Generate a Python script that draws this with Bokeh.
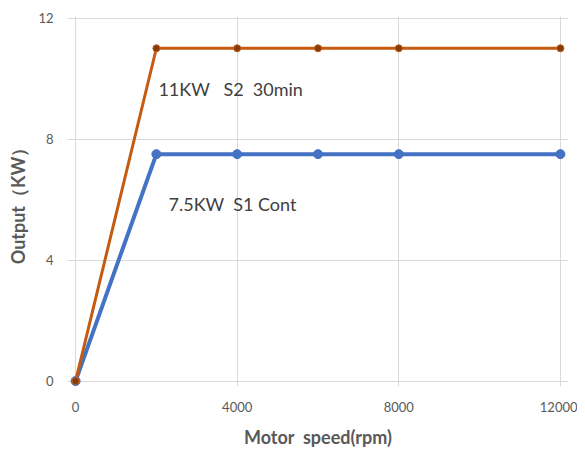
from bokeh.plotting import figure
from bokeh.models import Range1d, FixedTicker, Label
from bokeh.embed import file_html
from bokeh.resources import INLINE

speed = [0, 2000, 4000, 6000, 8000, 12000]
s2_output = [0, 11, 11, 11, 11, 11]
s1_output = [0, 7.5, 7.5, 7.5, 7.5, 7.5]
x_ticks = [0, 4000, 8000, 12000]
y_ticks = [0, 4, 8, 12]
label_s2 = "11KW\u00a0\u00a0 S2\u00a0 30min"
label_s1 = "7.5KW\u00a0 S1 Cont"

FONT = "Lato"
p = figure(width=577, height=450, output_backend="svg", toolbar_location=None,
           x_range=Range1d(-200, 12200), y_range=Range1d(-0.18, 12.05),
           min_border_left=67, min_border_right=9, min_border_top=16, min_border_bottom=57)
p.outline_line_color = None
p.background_fill_color = "white"

for ax in (p.xaxis, p.yaxis):
    ax.axis_line_color = None
    ax.major_tick_line_color = None
    ax.minor_tick_line_color = None
    ax.major_label_text_font = FONT
    ax.major_label_text_font_size = "13px"
    ax.major_label_text_color = "#595959"
    ax.axis_label_text_font = FONT
    ax.axis_label_text_font_size = "18px"
    ax.axis_label_text_font_style = "bold"
    ax.axis_label_text_color = "#595959"

p.xaxis.ticker = FixedTicker(ticks=x_ticks)
p.yaxis.ticker = FixedTicker(ticks=y_ticks)
p.xaxis.major_label_standoff = 9
p.yaxis.major_label_standoff = 8
p.xaxis.axis_label = "Motor\u00a0 speed(rpm)"
p.yaxis.axis_label = "Output（KW）"
p.xaxis.axis_label_standoff = 11
p.yaxis.axis_label_standoff = 6

p.xgrid.grid_line_color = "#d9d9d9"
p.ygrid.grid_line_color = "#d9d9d9"

p.line(speed, s1_output, line_color="#4472C4", line_width=4)
p.scatter(speed, s1_output, size=9, fill_color="#4472C4", line_color="#4472C4")
p.line(speed, s2_output, line_color="#C55A11", line_width=3)
p.scatter(speed, s2_output, size=7, fill_color="#843C0C", line_color="#C55A11")

p.add_layout(Label(x=2050, y=9.65, text=label_s2, text_font=FONT, text_font_size="18px",
                   text_color="#404040", text_baseline="middle"))
p.add_layout(Label(x=2300, y=5.85, text=label_s1, text_font=FONT, text_font_size="18px",
                   text_color="#404040", text_baseline="middle"))

open("out.html", "w").write(file_html(p, INLINE))
